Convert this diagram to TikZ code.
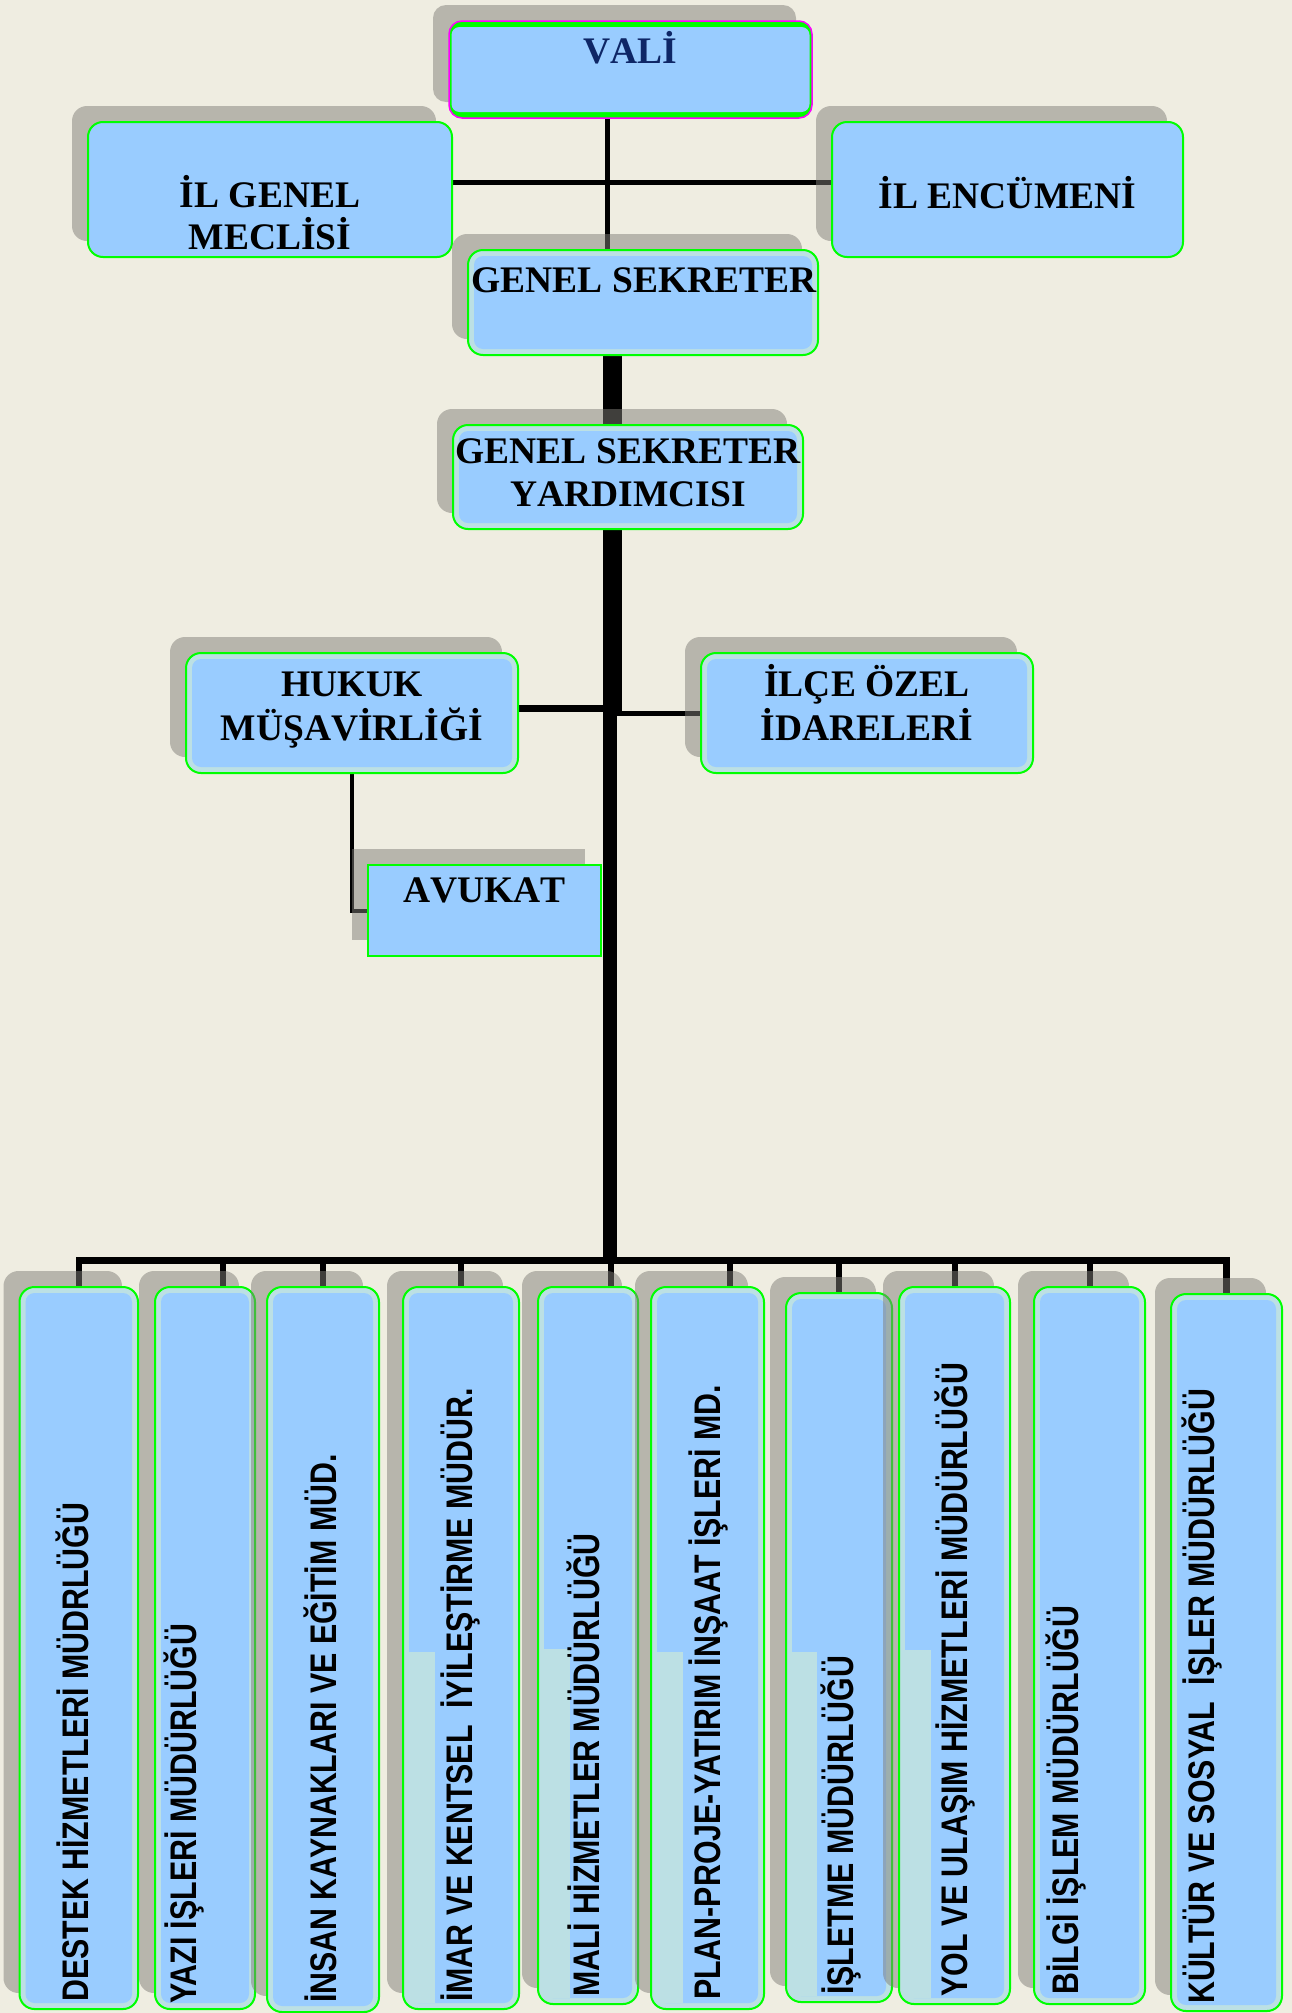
\documentclass[tikz,border=0pt]{standalone}
\usepackage{fontspec}
\setmainfont{Liberation Serif}[Kerning=Off]
\newfontfamily\narrowsans{Liberation Sans}[FakeStretch=0.82]
\usetikzlibrary{shadows,calc}
\pgfdeclarelayer{back}
\pgfdeclarelayer{lines}
\pgfsetlayers{back,lines,main}
\definecolor{bgc}{RGB}{239,237,225}
\definecolor{blu}{RGB}{153,204,255}
\definecolor{cyanl}{RGB}{188,224,228}
\definecolor{grn}{RGB}{0,255,0}
\definecolor{mag}{RGB}{255,0,255}
\definecolor{navy}{RGB}{14,38,102}
\definecolor{shadowc}{RGB}{128,126,120}
\tikzset{
  shade box/.style={drop shadow={shadow xshift=-16pt,shadow yshift=16pt,fill=shadowc,opacity=0.5}},
  plainbox/.style={shade box, draw=grn, line width=2pt, fill=blu, rounded corners=15pt, inner sep=0pt},
  insetbox/.style={shade box, draw=grn, line width=2pt, fill=cyanl, rounded corners=15pt, inner sep=0pt,
    path picture={\fill[blu,rounded corners=9pt] ([shift={(6pt,6pt)}]path picture bounding box.south west) rectangle ([shift={(-6pt,-6pt)}]path picture bounding box.north east);}},
  valibox/.style={shade box, draw=mag, line width=1.5pt, fill=grn, rounded corners=13pt, inner sep=0pt,
    path picture={\fill[blu,rounded corners=8pt] ([shift={(2.5pt,6pt)}]path picture bounding box.south west) rectangle ([shift={(-2.5pt,-6pt)}]path picture bounding box.north east);}},
  sharpbox/.style={shade box, draw=grn, line width=2pt, fill=blu, inner sep=0pt},
  ttl/.style={font=\bfseries\fontsize{37.5}{45}\selectfont, inner sep=0pt, anchor=base},
  vtxt/.style={font=\narrowsans\bfseries\fontsize{37}{44}\selectfont, inner sep=0pt, rotate=90, anchor=base west},
  ln4/.style={draw=black, line width=4pt},
  ln5/.style={draw=black, line width=5pt},
  ln7/.style={draw=black, line width=7pt},
  trunk/.style={draw=black, line width=14pt},
  busline/.style={draw=black, line width=6.5pt, line join=miter},
  dropline/.style={draw=black, line width=6pt},
}
\begin{document}
\begin{tikzpicture}[x=1pt,y=-1pt]
\useasboundingbox (0,0) rectangle (1292,2013);
\begin{pgfonlayer}{back}
\fill[bgc] (0,0) rectangle (1292,2013);
\end{pgfonlayer}

% top boxes
\node[valibox, minimum width=363pt, minimum height=97pt] (vali) at (630.5,69.5) {};
\node[plainbox, minimum width=364pt, minimum height=135pt] (igm) at (270,189.5) {};
\node[plainbox, minimum width=351pt, minimum height=135pt] (ile) at (1007.5,189.5) {};
\node[insetbox, minimum width=350pt, minimum height=105pt] (gs) at (643,302.5) {};
\node[insetbox, minimum width=350pt, minimum height=104pt] (gsy) at (628,477) {};
\node[insetbox, minimum width=332pt, minimum height=120pt] (hukuk) at (352,713) {};
\node[insetbox, minimum width=332pt, minimum height=120pt] (ilce) at (867,713) {};
\node[sharpbox, minimum width=233pt, minimum height=91pt] (avukat) at (484.5,910.5) {};

% bottom boxes
\node[insetbox, minimum width=118.5pt, minimum height=722pt] (b1) at (78.75,1648) {};
\node[insetbox, minimum width=100pt, minimum height=722pt] (b2) at (205,1648) {};
\node[insetbox, minimum width=112pt, minimum height=725pt] (b3) at (323,1649.5) {};
\node[insetbox, minimum width=116pt, minimum height=722pt] (b4) at (461,1648) {};
\node[insetbox, minimum width=100pt, minimum height=717pt] (b5) at (588,1645.5) {};
\node[insetbox, minimum width=113pt, minimum height=722pt] (b6) at (707.5,1648) {};
\node[insetbox, minimum width=106pt, minimum height=709pt] (b7) at (839,1647.5) {};
\node[insetbox, minimum width=111pt, minimum height=717pt] (b8) at (954.5,1645.5) {};
\node[insetbox, minimum width=111pt, minimum height=717pt] (b9) at (1089.5,1645.5) {};
\node[insetbox, minimum width=111pt, minimum height=717pt] (b10) at (1226.5,1652.5) {};

% lighter strips beside the text in some boxes
\fill[cyanl] (409,1652) rectangle (435,2003);
\fill[cyanl] (544,1649) rectangle (570,1998);
\fill[cyanl] (657,1652) rectangle (683,2003);
\fill[cyanl] (792,1652) rectangle (817,1996);
\fill[cyanl] (905,1650) rectangle (931,1998);

\coordinate (bus) at (610,1260.5);

% connectors
\begin{pgfonlayer}{lines}
\draw[ln5] ([xshift=-23pt]vali.south) -- ([xshift=-23pt]vali.south |- gs.north);
\draw[ln5] ([yshift=7.5pt]igm.east) -- ([yshift=7.5pt]ile.west);
\draw[trunk] (gs.south -| bus) -- (bus);
\draw[ln5] ([xshift=-23.5pt]gs.south) |- (ilce.west);
\draw[ln7] ([yshift=4.5pt]hukuk.east) -- ([yshift=4.5pt]hukuk.east -| bus);
\draw[ln4] (hukuk.south) |- (avukat.west);
\draw[busline] (b1.north) -- (b1.north |- bus) -- (b10.north |- bus) -- (b10.north);
\foreach \b/\s in {b2/18,b3/0,b4/0,b5/23,b6/22.5,b7/0,b8/0,b9/0} {
  \path ([xshift=\s pt]\b.north) coordinate (d\b);
  \draw[dropline] (d\b) -- (d\b |- bus);
}
\end{pgfonlayer}

% texts
\node[ttl, text=navy] (tvali) at (630.5,63) {VALİ};
\node[ttl] (tigm1) at (270,207) {İL GENEL};
\node[ttl] (tigm2) at (270,249) {MECLİSİ};
\node[ttl] (tile) at (1007.5,208) {İL ENCÜMENİ};
\node[ttl] (tgs) at (644,292) {GENEL SEKRETER};
\node[ttl] (tgsy1) at (628,463) {GENEL SEKRETER};
\node[ttl] (tgsy2) at (628,506) {YARDIMCISI};
\node[ttl] (thuk1) at (352,696) {HUKUK};
\node[ttl] (thuk2) at (352,740) {MÜŞAVİRLİĞİ};
\node[ttl] (tilce1) at (867,696) {İLÇE ÖZEL};
\node[ttl] (tilce2) at (867,740) {İDARELERİ};
\node[ttl] (tavu) at (484.5,902) {AVUKAT};

\node[vtxt] (t1) at (88,2002) {DESTEK HİZMETLERİ MÜDRLÜĞÜ};
\node[vtxt] (t2) at (196,2004) {YAZI İŞLERİ MÜDÜRLÜĞÜ};
\node[vtxt] (t3) at (336,2003) {İNSAN KAYNAKLARI VE EĞİTİM MÜD.};
\node[vtxt] (t4) at (472,2002) {İMAR VE KENTSEL \ İYİLEŞTİRME MÜDÜR.};
\node[vtxt] (t5) at (599,1997) {MALİ HİZMETLER MÜDÜRLÜĞÜ};
\node[vtxt] (t6) at (720,2000) {PLAN-PROJE-YATIRIM İNŞAAT İŞLERİ MD.};
\node[vtxt] (t7) at (853,1995) {İŞLETME MÜDÜRLÜĞÜ};
\node[vtxt] (t8) at (967,1997) {YOL VE ULAŞIM HİZMETLERİ MÜDÜRLÜĞÜ};
\node[vtxt] (t9) at (1078,1995) {BİLGİ İŞLEM MÜDÜRLÜĞÜ};
\node[vtxt] (t10) at (1214,2004) {KÜLTÜR VE SOSYAL \ İŞLER MÜDÜRLÜĞÜ};
\end{tikzpicture}
\end{document}
